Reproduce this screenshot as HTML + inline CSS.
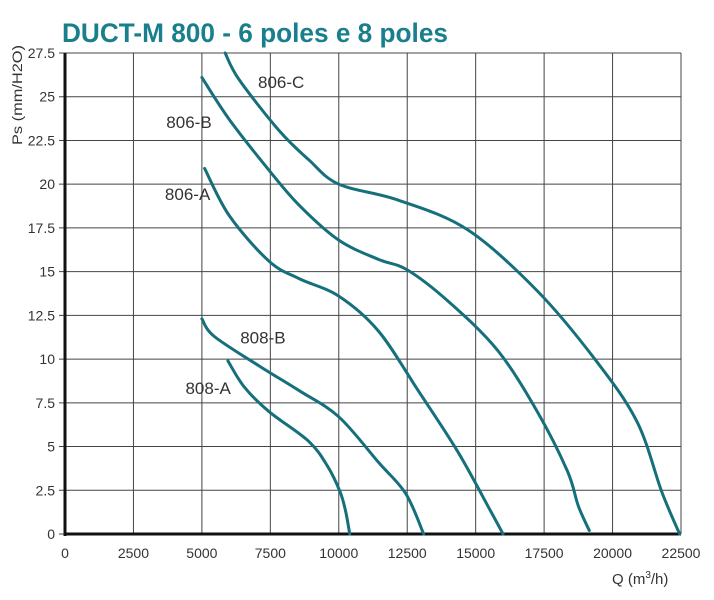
<!DOCTYPE html>
<html><head><meta charset="utf-8"><style>
body{margin:0;background:#fff;}
svg{display:block;font-family:"Liberation Sans",sans-serif;}
</style></head><body>
<svg id="chart" width="714" height="600">
<text x="62" y="42" font-size="27" font-weight="bold" fill="#1a7f8c" textLength="386" lengthAdjust="spacingAndGlyphs">DUCT-M  800 - 6 poles e 8 poles</text>
<g id="grid"></g>
<g id="axes"></g>
<g id="curves"></g>
<text x="22" y="145" font-size="14" fill="#333" transform="rotate(-90 22 145)" textLength="100" lengthAdjust="spacingAndGlyphs">Ps (mm/H2O)</text>
<text x="612" y="584" font-size="15" fill="#333">Q (m<tspan font-size="10" dy="-6">3</tspan><tspan dy="6">/h)</tspan></text>
</svg>
<script>
const xTicks=[0,2500,5000,7500,10000,12500,15000,17500,20000,22500];
const yTicks=[0,2.5,5,7.5,10,12.5,15,17.5,20,22.5,25,27.5];
const yTickLabels=["0","2.5","5","7.5","10","12.5","15","17.5","20","22.5","25","27.5"];
const seriesNames=["806-C","806-B","806-A","808-B","808-A"];
const q806C=[5850,6350,7800,8900,10000,12150,14700,17250,19400,20900,21800,22450];
const p806C=[27.5,26,23.1,21.4,20,19.1,17.4,13.9,9.9,6.4,2.4,0];
const q806B=[5000,6000,7450,8550,10000,11450,12500,14000,15800,17250,18350,18750,19150];
const p806B=[26.1,23.7,20.8,18.8,16.8,15.7,15.1,13.3,10.5,7,3.6,1.6,0.2];
const q806A=[5100,6000,7450,8550,10000,11450,12900,14350,15550,16000];
const p806A=[20.9,18.2,15.6,14.6,13.6,11.6,8.2,4.7,1.3,0];
const q808B=[5000,5450,7100,8550,10000,11450,12450,13100];
const p808B=[12.3,11.3,9.6,8.2,6.7,4.1,2.3,0];
const q808A=[5950,6550,7450,8900,9600,10050,10250,10400];
const p808A=[9.9,8.4,7,5.3,3.85,2.4,1.3,0];
const labelQ=[7050,3700,3650,6400,4400];
const labelP=[25.5,23.2,19.1,10.9,8];

const X0=65,X1=681,Y0=534,Y1=53;
const xs=v=>X0+v/22500*(X1-X0);
const ys=v=>Y0-v/27.5*(Y0-Y1);
const NS="http://www.w3.org/2000/svg";
function mk(tag,attrs,parent){const e=document.createElementNS(NS,tag);for(const k in attrs)e.setAttribute(k,attrs[k]);parent.appendChild(e);return e;}
const grid=document.getElementById('grid'),axes=document.getElementById('axes'),curves=document.getElementById('curves'),svg=document.getElementById('chart');
xTicks.forEach((t,i)=>{
  const l=mk('line',{x1:xs(t),x2:xs(t),y1:Y1,y2:Y0,stroke:'#444','stroke-width':1},grid);
  
  
  const tx=mk('text',{x:xs(t),y:558,'font-size':14,fill:'#333','text-anchor':'middle'},axes);
  tx.textContent=String(t);
  
  
});
yTicks.forEach((t,i)=>{
  const l=mk('line',{x1:X0-6,x2:X1,y1:ys(t),y2:ys(t),stroke:'#444','stroke-width':1},grid);
  
  
  const tx=mk('text',{x:X0-10,y:ys(t)+5,'font-size':14,fill:'#333','text-anchor':'end'},axes);
  tx.textContent=yTickLabels[i];
  
  
});
const ya=mk('line',{x1:X0,x2:X0,y1:Y1,y2:Y0+2,stroke:'#111','stroke-width':3},axes);


const xa=mk('line',{x1:X0,x2:X1,y1:Y0,y2:Y0,stroke:'#111','stroke-width':3},axes);


function smooth(pts){
  let d=`M${pts[0][0]},${pts[0][1]}`;
  for(let i=0;i<pts.length-1;i++){
    const p0=pts[i-1]||pts[i],p1=pts[i],p2=pts[i+1],p3=pts[i+2]||p2;
    const c1=[p1[0]+(p2[0]-p0[0])/6,p1[1]+(p2[1]-p0[1])/6];
    const c2=[p2[0]-(p3[0]-p1[0])/6,p2[1]-(p3[1]-p1[1])/6];
    d+=` C${c1[0]},${c1[1]} ${c2[0]},${c2[1]} ${p2[0]},${p2[1]}`;
  }
  return d;
}
const allQ=[q806C,q806B,q806A,q808B,q808A],allP=[p806C,p806B,p806A,p808B,p808A];
allQ.forEach((qa,i)=>{
  const pts=qa.map((q,j)=>[xs(q),ys(allP[i][j])]);
  const p=mk('path',{d:smooth(pts),fill:'none',stroke:'#15707b','stroke-width':3,'stroke-linecap':'round'},curves);
  
  
  const t=mk('text',{x:xs(labelQ[i]),y:ys(labelP[i]),'font-size':17,fill:'#333'},svg);
  t.textContent=seriesNames[i];
  
  
});
</script>
</body></html>
